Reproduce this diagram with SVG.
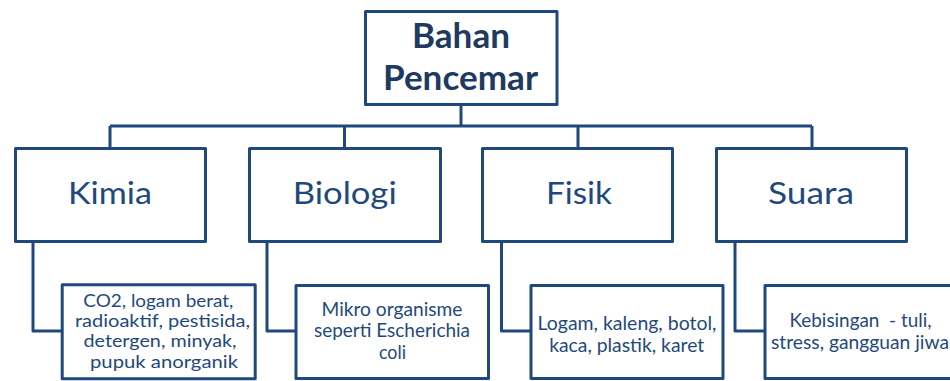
<svg xmlns="http://www.w3.org/2000/svg" width="950" height="381" viewBox="0 0 950 381">
  <style>
    .box { fill: #ffffff; stroke: #1F497D; stroke-width: 3; stroke-linejoin: round; }
    .conn { fill: none; stroke: #1F497D; stroke-width: 3; stroke-linejoin: round; }
    .t { font-family: Lato, "Open Sans", "Liberation Sans", sans-serif; fill: #1F497D; text-anchor: middle; }
    .root { font-size: 34px; font-weight: bold; fill: #1F3A60; }
    .l2 { font-size: 31px; }
    .l3 { font-size: 19px; }
    .l3s { font-size: 16.6px; }
  </style>
  <rect width="950" height="381" fill="#ffffff"/>
  <g id="connectors">
    <path class="conn" d="M461 106 V126"/>
    <path class="conn" d="M110 126 H812"/>
    <path class="conn" d="M110 126 V147"/>
    <path class="conn" d="M344.5 126 V147"/>
    <path class="conn" d="M578 126 V147"/>
    <path class="conn" d="M812 126 V147"/>
    <path class="conn" d="M33 243 V331 H62"/>
    <path class="conn" d="M267 243 V331 H296"/>
    <path class="conn" d="M501.5 243 V331 H531"/>
    <path class="conn" d="M735 243 V331 H765"/>
  </g>
  <g id="root">
    <rect class="box" x="365.5" y="11.5" width="191.5" height="93"/>
    <text class="t root" x="461" y="48" textLength="98" lengthAdjust="spacingAndGlyphs">Bahan</text>
    <text class="t root" x="460.5" y="90" textLength="155" lengthAdjust="spacingAndGlyphs">Pencemar</text>
  </g>
  <g id="kimia">
    <rect class="box" x="15.5" y="148.5" width="190" height="93"/>
    <text class="t l2" x="110" y="204" textLength="84" lengthAdjust="spacingAndGlyphs">Kimia</text>
  </g>
  <g id="biologi">
    <rect class="box" x="249.5" y="148.5" width="191" height="93"/>
    <text class="t l2" x="344.7" y="204" textLength="104" lengthAdjust="spacingAndGlyphs">Biologi</text>
  </g>
  <g id="fisik">
    <rect class="box" x="482.5" y="148.5" width="190" height="93"/>
    <text class="t l2" x="579" y="204" textLength="66" lengthAdjust="spacingAndGlyphs">Fisik</text>
  </g>
  <g id="suara">
    <rect class="box" x="716.5" y="148.5" width="190" height="93"/>
    <text class="t l2" x="811" y="204" textLength="86" lengthAdjust="spacingAndGlyphs">Suara</text>
  </g>
  <g id="kimia-detail">
    <rect class="box" x="62.2" y="284.8" width="193" height="94"/>
    <text class="t l3s" x="158.3" y="306.5" textLength="150" lengthAdjust="spacingAndGlyphs">CO2, logam berat,</text>
    <text class="t l3s" x="162.5" y="327" textLength="175" lengthAdjust="spacingAndGlyphs">radioaktif, pestisida,</text>
    <text class="t l3s" x="160" y="347.3" textLength="153" lengthAdjust="spacingAndGlyphs">detergen, minyak,</text>
    <text class="t l3s" x="164" y="367.6" textLength="148" lengthAdjust="spacingAndGlyphs">pupuk anorganik</text>
  </g>
  <g id="biologi-detail">
    <rect class="box" x="296" y="285.5" width="192.5" height="93"/>
    <text class="t l3" x="392" y="315.5" textLength="141" lengthAdjust="spacingAndGlyphs">Mikro organisme</text>
    <text class="t l3" x="392" y="337" textLength="156" lengthAdjust="spacingAndGlyphs">seperti Escherichia</text>
    <text class="t l3" x="392.5" y="358.5" textLength="27" lengthAdjust="spacingAndGlyphs">coli</text>
  </g>
  <g id="fisik-detail">
    <rect class="box" x="531" y="285.5" width="192" height="93"/>
    <text class="t l3" x="627" y="329.5" textLength="179" lengthAdjust="spacingAndGlyphs">Logam, kaleng, botol,</text>
    <text class="t l3" x="626.7" y="351.5" textLength="155" lengthAdjust="spacingAndGlyphs">kaca, plastik, karet</text>
  </g>
  <g id="suara-detail">
    <rect class="box" x="765" y="285.5" width="192" height="93"/>
    <text class="t l3" x="860.5" y="327.3" textLength="142" lengthAdjust="spacingAndGlyphs" xml:space="preserve">Kebisingan  - tuli,</text>
    <text class="t l3" x="860" y="348.5" textLength="178" lengthAdjust="spacingAndGlyphs">stress, gangguan jiwa</text>
  </g>
</svg>
